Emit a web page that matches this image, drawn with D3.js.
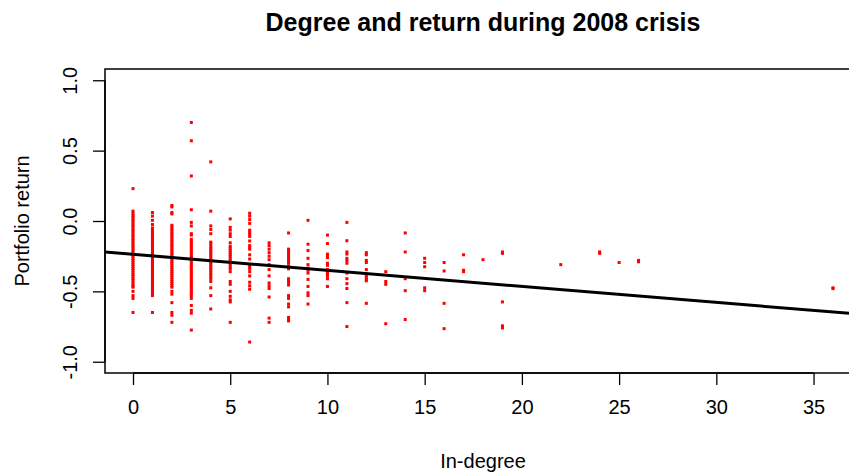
<!DOCTYPE html>
<html>
<head>
<meta charset="utf-8">
<script src="https://cdn.jsdelivr.net/npm/d3@7"></script>
<style>
  html, body { margin: 0; padding: 0; background: #fff; }
  svg { display: block; font-family: "Liberation Sans", Arial, sans-serif; }
</style>
</head>
<body>
<svg id="chart" width="849" height="474"></svg>
<script>
// In-degree of each fund (x) and the portfolio returns observed at that degree (y)
const inDegree = [0, 1, 2, 3, 4, 5, 6, 7, 8, 9, 10, 11, 12, 13, 14, 15, 16, 17, 18, 19, 22, 24, 25, 26, 36];

const returnsByDegree = [
  // 0
  [0.23, 0.07, 0.055, 0.04, 0.028, 0.012, 0.0, -0.015, -0.03, -0.042, -0.058, -0.07, -0.085, -0.1, -0.112,
   -0.128, -0.14, -0.155, -0.17, -0.183, -0.198, -0.21, -0.225, -0.24, -0.252, -0.268, -0.28, -0.295, -0.31,
   -0.322, -0.338, -0.35, -0.365, -0.38, -0.392, -0.408, -0.42, -0.435, -0.45, -0.462, -0.47,
   -0.50, -0.53, -0.55, -0.65],
  // 1
  [0.06, 0.035, 0.005, -0.025, -0.05, -0.064, -0.08, -0.093, -0.108, -0.122, -0.137, -0.15, -0.166, -0.18,
   -0.194, -0.208, -0.223, -0.237, -0.25, -0.265, -0.28, -0.294, -0.308, -0.322, -0.337, -0.35, -0.366,
   -0.38, -0.394, -0.408, -0.423, -0.437, -0.45, -0.466, -0.48, -0.494, -0.508, -0.52, -0.53, -0.65],
  // 2
  [0.11, 0.10, 0.06, 0.05, -0.03, -0.044, -0.058, -0.072, -0.087, -0.1, -0.115, -0.13, -0.143, -0.158,
   -0.172, -0.186, -0.2, -0.215, -0.23, -0.244, -0.258, -0.272, -0.286, -0.3, -0.315, -0.33, -0.343,
   -0.358, -0.372, -0.386, -0.4, -0.415, -0.43, -0.444, -0.458, -0.47,
   -0.50, -0.52, -0.58, -0.65, -0.67, -0.72],
  // 3
  [0.70, 0.57, 0.32, 0.08, -0.01, -0.035, -0.09, -0.10, -0.13, -0.144, -0.158, -0.172, -0.186, -0.2,
   -0.215, -0.23, -0.244, -0.258, -0.272, -0.286, -0.3, -0.315, -0.33, -0.344, -0.358, -0.372, -0.386,
   -0.4, -0.415, -0.43, -0.444, -0.458, -0.472, -0.486, -0.5, -0.515, -0.53,
   -0.55, -0.60, -0.635, -0.655, -0.775],
  // 4
  [0.42, 0.07, -0.035, -0.06, -0.09, -0.15, -0.16, -0.18, -0.194, -0.208, -0.222, -0.236, -0.25, -0.265,
   -0.28, -0.294, -0.308, -0.322, -0.336, -0.35, -0.365, -0.38, -0.395, -0.41,
   -0.43, -0.475, -0.53, -0.625],
  // 5
  [0.015, -0.045, -0.065, -0.09, -0.11, -0.155, -0.18, -0.195, -0.21, -0.224, -0.238, -0.252, -0.268,
   -0.282, -0.297, -0.31, -0.325, -0.34, -0.36, -0.43, -0.45, -0.50, -0.535, -0.56, -0.575, -0.72],
  // 6
  [0.055, 0.035, 0.01, -0.017, -0.065, -0.08, -0.095, -0.11, -0.142, -0.175, -0.19, -0.2, -0.24, -0.27,
   -0.31, -0.325, -0.34, -0.36, -0.39, -0.435, -0.46, -0.485, -0.86],
  // 7
  [-0.155, -0.175, -0.20, -0.225, -0.25, -0.275, -0.31, -0.345, -0.39, -0.44, -0.46, -0.48, -0.54, -0.69, -0.72],
  // 8
  [-0.085, -0.20, -0.214, -0.228, -0.242, -0.256, -0.27, -0.285, -0.30, -0.32, -0.34, -0.41, -0.425, -0.44,
   -0.455, -0.53, -0.55, -0.59, -0.61, -0.685, -0.70, -0.71],
  // 9
  [0.005, -0.165, -0.21, -0.265, -0.31, -0.335, -0.35, -0.37, -0.415, -0.465, -0.51, -0.53, -0.59],
  // 10
  [-0.10, -0.16, -0.235, -0.25, -0.26, -0.30, -0.315, -0.345, -0.36, -0.375, -0.39, -0.41, -0.465],
  // 11
  [-0.01, -0.14, -0.22, -0.235, -0.265, -0.28, -0.30, -0.37, -0.41, -0.445, -0.48, -0.58, -0.75],
  // 12
  [-0.225, -0.24, -0.28, -0.295, -0.345, -0.385, -0.40, -0.415, -0.425, -0.585],
  // 13
  [-0.36, -0.43, -0.45, -0.73],
  // 14
  [-0.085, -0.22, -0.41, -0.495, -0.70],
  // 15
  [-0.265, -0.295, -0.325, -0.475, -0.495],
  // 16
  [-0.295, -0.355, -0.585, -0.765],
  // 17
  [-0.24, -0.35, -0.36],
  // 18
  [-0.275],
  // 19
  [-0.22, -0.23, -0.575, -0.745, -0.76],
  // 22
  [-0.31],
  // 24
  [-0.22, -0.23],
  // 25
  [-0.295],
  // 26
  [-0.28, -0.29],
  // 36
  [-0.475, -0.48]
];

// Least-squares fit of return on in-degree
const fitIntercept = -0.2365;
const fitSlope = -0.0114;

const xTicks = [0, 5, 10, 15, 20, 25, 30, 35];
const yTicks = [-1.0, -0.5, 0.0, 0.5, 1.0];
const yTickLabels = ["-1.0", "-0.5", "0.0", "0.5", "1.0"];

const titleText = "Degree and return during 2008 crisis";
const xLabel = "In-degree";
const yLabel = "Portfolio return";

// Flatten into points
const points = [];
inDegree.forEach((d, i) => {
  returnsByDegree[i].forEach(r => points.push({ x: d, y: r }));
});

const svg = d3.select("#chart");
const plot = { left: 105, right: 861, top: 69, bottom: 373 };

// Axis limits padded by 4% of the data range on each side
const xMin = 0, xMax = d3.max(inDegree);
const xPad = (xMax - xMin) * 0.04;
const x = d3.scaleLinear().domain([xMin - xPad, xMax + xPad]).range([plot.left, plot.right]);
const y = d3.scaleLinear().domain([-1.08, 1.08]).range([plot.bottom, plot.top]);

const fontSize = 20;
const tickLen = 12;
const dot = 3;

// Clip for the plotting region
svg.append("defs").append("clipPath").attr("id", "plotClip")
  .append("rect")
  .attr("x", plot.left).attr("y", plot.top)
  .attr("width", plot.right - plot.left).attr("height", plot.bottom - plot.top);

// Points
svg.append("g")
  .attr("clip-path", "url(#plotClip)")
  .selectAll("rect")
  .data(points)
  .enter().append("rect")
  .attr("x", d => x(d.x) - dot / 2)
  .attr("y", d => y(d.y) - dot / 2)
  .attr("width", dot)
  .attr("height", dot)
  .attr("fill", "#ff0000");

// Regression line across the plot region
const [dx0, dx1] = x.domain();
svg.append("line")
  .attr("clip-path", "url(#plotClip)")
  .attr("x1", x(dx0)).attr("y1", y(fitIntercept + fitSlope * dx0))
  .attr("x2", x(dx1)).attr("y2", y(fitIntercept + fitSlope * dx1))
  .attr("stroke", "#000")
  .attr("stroke-width", 3);

// Box
svg.append("rect")
  .attr("x", plot.left).attr("y", plot.top)
  .attr("width", plot.right - plot.left).attr("height", plot.bottom - plot.top)
  .attr("fill", "none")
  .attr("stroke", "#000")
  .attr("stroke-width", 1.5);

// X axis
const xAxis = d3.axisBottom(x).tickValues(xTicks).tickSize(tickLen).tickPadding(15).tickSizeOuter(0);
const gx = svg.append("g").attr("transform", `translate(0,${plot.bottom})`).call(xAxis);
gx.select(".domain").attr("d", `M${x(xTicks[0])},0H${x(xTicks[xTicks.length - 1])}`)
  .attr("stroke", "#000").attr("stroke-width", 1.5);
gx.selectAll(".tick line").attr("stroke", "#000").attr("stroke-width", 1.3);
gx.selectAll(".tick text")
  .attr("font-family", "Liberation Sans, Arial, sans-serif")
  .attr("font-size", fontSize)
  .attr("fill", "#000");

// Y axis with rotated labels
const yAxis = d3.axisLeft(y).tickValues(yTicks).tickSize(tickLen).tickSizeOuter(0)
  .tickFormat((d, i) => yTickLabels[i]);
const gy = svg.append("g").attr("transform", `translate(${plot.left},0)`).call(yAxis);
gy.select(".domain").attr("d", `M0,${y(yTicks[0])}V${y(yTicks[yTicks.length - 1])}`)
  .attr("stroke", "#000").attr("stroke-width", 1.5);
gy.selectAll(".tick line").attr("stroke", "#000").attr("stroke-width", 1.3);
gy.selectAll(".tick text")
  .attr("font-family", "Liberation Sans, Arial, sans-serif")
  .attr("font-size", fontSize)
  .attr("fill", "#000")
  .attr("x", null).attr("dy", null)
  .attr("text-anchor", "middle")
  .attr("transform", "translate(-28,0) rotate(-90)");

// Title
svg.append("text")
  .attr("x", (plot.left + plot.right) / 2)
  .attr("y", 31)
  .attr("text-anchor", "middle")
  .attr("font-size", 25)
  .attr("font-weight", "bold")
  .attr("fill", "#000")
  .text(titleText);

// Axis titles
svg.append("text")
  .attr("x", (plot.left + plot.right) / 2)
  .attr("y", 468)
  .attr("text-anchor", "middle")
  .attr("font-size", fontSize)
  .attr("fill", "#000")
  .text(xLabel);

svg.append("text")
  .attr("transform", `translate(29,${(plot.top + plot.bottom) / 2}) rotate(-90)`)
  .attr("text-anchor", "middle")
  .attr("font-size", fontSize)
  .attr("fill", "#000")
  .text(yLabel);
</script>
</body>
</html>
